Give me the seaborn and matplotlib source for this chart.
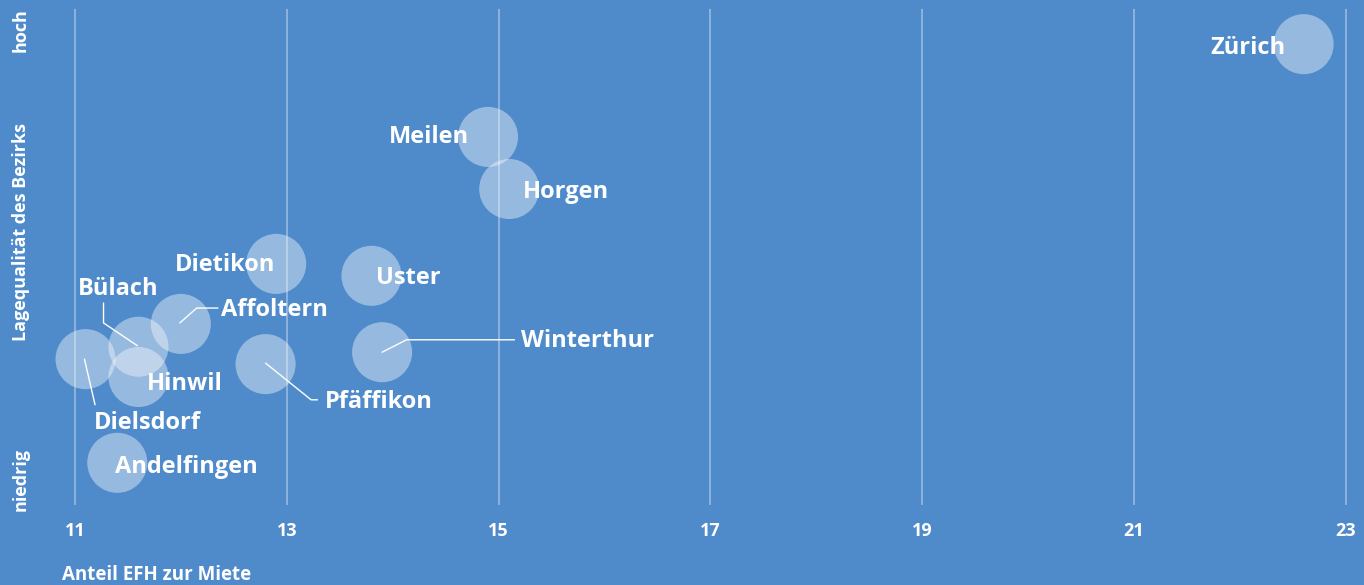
import matplotlib
matplotlib.use("Agg")
import matplotlib.pyplot as plt
import seaborn as sns
import pandas as pd

# Bezirke: Anteil EFH zur Miete (x) und Lagequalitaet (y, 0 = niedrig, 10 = hoch)
bezirke = ["Zürich", "Meilen", "Horgen", "Dietikon", "Uster", "Affoltern",
           "Bülach", "Winterthur", "Dielsdorf", "Pfäffikon", "Hinwil", "Andelfingen"]
anteil_efh = [22.6, 14.9, 15.1, 12.9, 13.8, 12.0, 11.6, 13.9, 11.1, 12.8, 11.6, 11.4]
lagequalitaet = [9.29, 7.42, 6.37, 4.86, 4.62, 3.65, 3.19, 3.08, 2.94, 2.84, 2.58, 0.85]

x_ticks = [11, 13, 15, 17, 19, 21, 23]

df = pd.DataFrame({"Bezirk": bezirke, "EFH": anteil_efh, "Lage": lagequalitaet})

bg = "#4f8bca"
sns.set_style("white")
plt.rcParams["font.family"] = ["Open Sans", "DejaVu Sans"]

fig = plt.figure(figsize=(13.64, 5.85), dpi=100, facecolor=bg)
ax = fig.add_axes([0.0293, 0.1368, 0.9707, 0.8479], facecolor=bg)

sns.scatterplot(data=df, x="EFH", y="Lage", s=1870, color="white", alpha=0.4,
                edgecolor="none", legend=False, ax=ax, zorder=3)

ax.set_xlim(10.67, 23.17)
ax.set_ylim(0, 10)
for t in x_ticks:
    ax.axvline(t, color="white", alpha=0.45, lw=1.1, zorder=1)

# label positions (text) and leader lines
labels = {
    "Zürich": (22.07, 9.22, "center"),
    "Meilen": (14.34, 7.41, "center"),
    "Horgen": (15.64, 6.30, "center"),
    "Dietikon": (12.42, 4.83, "center"),
    "Uster": (14.15, 4.57, "center"),
    "Affoltern": (12.38, 3.94, "left"),
    "Bülach": (11.41, 4.35, "center"),
    "Winterthur": (15.21, 3.30, "left"),
    "Dielsdorf": (11.68, 1.66, "center"),
    "Hinwil": (12.04, 2.43, "center"),
    "Pfäffikon": (13.36, 2.07, "left"),
    "Andelfingen": (12.05, 0.76, "center"),
}
for name, (tx, ty, ha) in labels.items():
    ax.text(tx, ty, name, color="white", fontsize=17, fontweight="bold",
            ha=ha, va="center", zorder=5)

leaders = {
    "Affoltern": ([11.99, 12.15, 12.35], [3.67, 3.97, 3.97]),
    "Bülach": ([11.27, 11.27, 11.59], [4.07, 3.67, 3.21]),
    "Winterthur": ([13.90, 14.13, 15.15], [3.08, 3.33, 3.33]),
    "Dielsdorf": ([11.09, 11.19], [2.94, 2.02]),
    "Pfäffikon": ([12.80, 13.23, 13.29], [2.86, 2.12, 2.12]),
}
for name, (lx, ly) in leaders.items():
    ax.plot(lx, ly, color="white", lw=1, zorder=4)

ax.set_xticks(x_ticks)
ax.set_xticklabels([str(t) for t in x_ticks], color="white", fontsize=13,
                   fontweight="bold")
ax.tick_params(axis="x", length=0, pad=12)
ax.set_yticks([])
ax.set_xlabel("")
ax.set_ylabel("")
for sp in ax.spines.values():
    sp.set_visible(False)

fig.text(62 / 1364, 1 - 575 / 585, "Anteil EFH zur Miete", color="white",
         fontsize=13.5, fontweight="bold", ha="left", va="center")
fig.text(21 / 1364, 1 - 8 / 585, "hoch", color="white", fontsize=13,
         fontweight="bold", rotation=90, ha="center", va="top")
fig.text(21 / 1364, 1 - 232 / 585, "Lagequalität des Bezirks", color="white",
         fontsize=13, fontweight="bold", rotation=90, ha="center", va="center")
fig.text(21 / 1364, 1 - 511 / 585, "niedrig", color="white", fontsize=13,
         fontweight="bold", rotation=90, ha="center", va="bottom")

fig.savefig("out.png", dpi=100, facecolor=bg)
